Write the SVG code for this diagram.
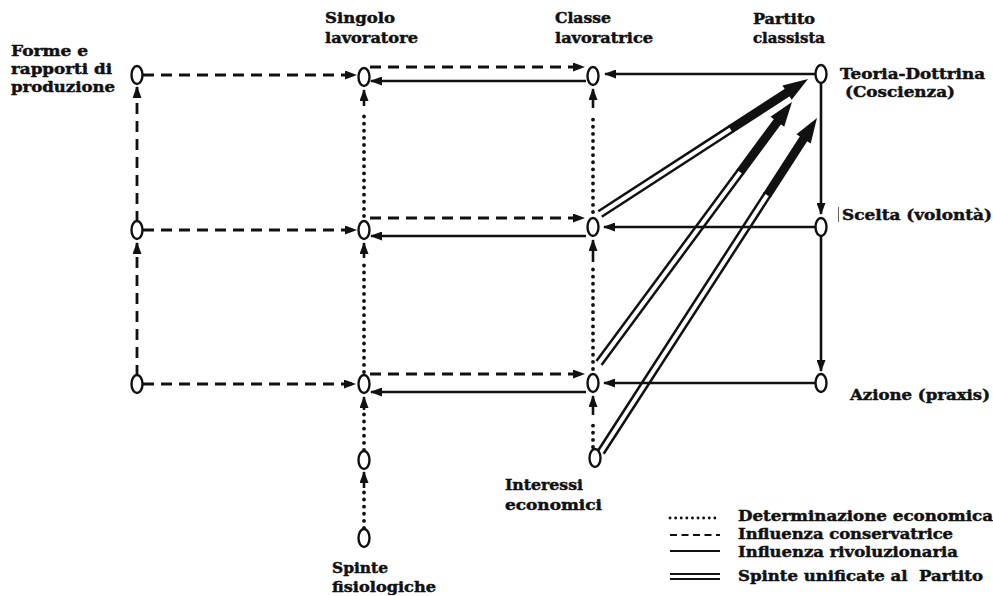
<svg xmlns="http://www.w3.org/2000/svg" width="993" height="596" viewBox="0 0 993 596">
<style>
.t{font-family:"DejaVu Serif","Liberation Serif",serif;font-weight:bold;font-size:14.5px;fill:#111;stroke:#111;stroke-width:0.45}
.n{fill:#fff;stroke:#111;stroke-width:2.4}
.sol{fill:none;stroke:#111;stroke-width:2.6}
.das{fill:none;stroke:#111;stroke-width:2.8;stroke-dasharray:11 7}
.dot{fill:none;stroke:#111;stroke-width:3.8;stroke-linecap:round;stroke-dasharray:0.1 7}
.dl{stroke:#111;stroke-width:2.5}
</style>
<defs>
<marker id="ah" viewBox="0 0 12 9" refX="11" refY="4.5" markerWidth="12" markerHeight="9" markerUnits="userSpaceOnUse" orient="auto">
<path d="M0,0 L12,4.5 L0,9 z" fill="#111"/>
</marker>
</defs>
<g id="connectors">
<path class="das" d="M143,75 H356" marker-end="url(#ah)"/>
<path class="das" d="M370,67 H584" marker-end="url(#ah)"/>
<path class="sol" d="M586,81 H371" marker-end="url(#ah)"/>
<path class="sol" d="M815,74 H605" marker-end="url(#ah)"/>
<path class="das" d="M143,230 H356" marker-end="url(#ah)"/>
<path class="das" d="M370,218 H584" marker-end="url(#ah)"/>
<path class="sol" d="M586,236 H371" marker-end="url(#ah)"/>
<path class="sol" d="M815,227 H604" marker-end="url(#ah)"/>
<path class="das" d="M143,384 H355" marker-end="url(#ah)"/>
<path class="das" d="M370,374 H584" marker-end="url(#ah)"/>
<path class="sol" d="M586,392 H371" marker-end="url(#ah)"/>
<path class="sol" d="M815,383 H604" marker-end="url(#ah)"/>
<path class="das" d="M137,376 V243" marker-end="url(#ah)"/>
<path class="das" d="M137,222 V87" marker-end="url(#ah)"/>
<path class="dot" d="M364,216 V110"/>
<path class="sol" d="M364,106 V90" marker-end="url(#ah)"/>
<path class="dot" d="M364,372 V264"/>
<path class="sol" d="M364,258 V243" marker-end="url(#ah)"/>
<path class="dot" d="M364,450 V414"/>
<path class="sol" d="M364,410 V397" marker-end="url(#ah)"/>
<path class="dot" d="M364,528 V492"/>
<path class="sol" d="M364,488 V472" marker-end="url(#ah)"/>
<path class="dot" d="M593,212 V114"/>
<path class="sol" d="M593,108 V89" marker-end="url(#ah)"/>
<path class="dot" d="M593,369 V268"/>
<path class="sol" d="M593,262 V240" marker-end="url(#ah)"/>
<path class="dot" d="M593,447 V420"/>
<path class="sol" d="M593,415 V396" marker-end="url(#ah)"/>
<path class="sol" d="M821,83 V214" marker-end="url(#ah)"/>
<path class="sol" d="M821,236 V371" marker-end="url(#ah)"/>
<g transform="translate(600,214) rotate(-32.98)">
<line class="dl" x1="0" y1="-3.2" x2="157" y2="-3.2"/>
<line class="dl" x1="0" y1="3.2" x2="157" y2="3.2"/>
<rect x="155.6" y="-4.45" width="70" height="8.9" fill="#111"/>
<polygon points="223,-8.5 248,0 223,8.5" fill="#111"/>
</g>
<g transform="translate(599,363) rotate(-53.52)">
<line class="dl" x1="0" y1="-3.2" x2="239" y2="-3.2"/>
<line class="dl" x1="0" y1="3.2" x2="239" y2="3.2"/>
<rect x="237.4" y="-4.45" width="64" height="8.9" fill="#111"/>
<polygon points="300,-8.5 324.6,0 300,8.5" fill="#111"/>
</g>
<g transform="translate(601,452) rotate(-57.11)">
<line class="dl" x1="0" y1="-3.2" x2="307" y2="-3.2"/>
<line class="dl" x1="0" y1="3.2" x2="307" y2="3.2"/>
<rect x="306" y="-4.45" width="69" height="8.9" fill="#111"/>
<polygon points="373,-8.5 397.8,0 373,8.5" fill="#111"/>
</g>
</g>
<g id="forme"><ellipse class="n" cx="137" cy="75" rx="5.5" ry="9"/><text class="t" x="11" y="56" textLength="77" lengthAdjust="spacingAndGlyphs">Forme e</text><text class="t" x="11" y="74" textLength="101" lengthAdjust="spacingAndGlyphs">rapporti di</text><text class="t" x="11" y="92" textLength="104" lengthAdjust="spacingAndGlyphs">produzione</text></g>
<g id="c1-mid"><ellipse class="n" cx="137" cy="230" rx="5.5" ry="9"/></g>
<g id="c1-bot"><ellipse class="n" cx="137" cy="384" rx="5.5" ry="9"/></g>
<g id="singolo"><ellipse class="n" cx="364" cy="77" rx="5.5" ry="9"/><text class="t" x="325" y="23" textLength="70" lengthAdjust="spacingAndGlyphs">Singolo</text><text class="t" x="325" y="43" textLength="93" lengthAdjust="spacingAndGlyphs">lavoratore</text></g>
<g id="c2-mid"><ellipse class="n" cx="364" cy="230" rx="5.5" ry="9"/></g>
<g id="c2-bot"><ellipse class="n" cx="364" cy="384" rx="5.5" ry="9"/></g>
<g id="c2-low"><ellipse class="n" cx="364" cy="460" rx="5.5" ry="9"/></g>
<g id="spinte"><ellipse class="n" cx="364" cy="538" rx="5.5" ry="9"/><text class="t" x="332" y="573" textLength="56" lengthAdjust="spacingAndGlyphs">Spinte</text><text class="t" x="332" y="592" textLength="104" lengthAdjust="spacingAndGlyphs">fisiologiche</text></g>
<g id="classe"><ellipse class="n" cx="593" cy="76" rx="5.5" ry="9"/><text class="t" x="555" y="23" textLength="56" lengthAdjust="spacingAndGlyphs">Classe</text><text class="t" x="555" y="43" textLength="98" lengthAdjust="spacingAndGlyphs">lavoratrice</text></g>
<g id="c3-mid"><ellipse class="n" cx="593" cy="227" rx="5.5" ry="9"/></g>
<g id="c3-bot"><ellipse class="n" cx="593" cy="383" rx="5.5" ry="9"/></g>
<g id="interessi"><ellipse class="n" cx="595" cy="458" rx="5.5" ry="9"/><text class="t" x="505" y="490" textLength="78" lengthAdjust="spacingAndGlyphs">Interessi</text><text class="t" x="505" y="510" textLength="97" lengthAdjust="spacingAndGlyphs">economici</text></g>
<g id="partito"><ellipse class="n" cx="821" cy="74" rx="5.5" ry="9"/><text class="t" x="753" y="24" textLength="62" lengthAdjust="spacingAndGlyphs">Partito</text><text class="t" x="753" y="43" textLength="72" lengthAdjust="spacingAndGlyphs">classista</text><text class="t" x="840" y="79" textLength="145" lengthAdjust="spacingAndGlyphs">Teoria-Dottrina</text><text class="t" x="845" y="97" textLength="110" lengthAdjust="spacingAndGlyphs">(Coscienza)</text></g>
<g id="scelta"><ellipse class="n" cx="821" cy="227" rx="5.5" ry="9"/><line x1="838.5" y1="207" x2="838.5" y2="222" stroke="#666" stroke-width="1"/><text class="t" x="842" y="220" textLength="150" lengthAdjust="spacingAndGlyphs">Scelta (volontà)</text></g>
<g id="azione"><ellipse class="n" cx="821" cy="383" rx="5.5" ry="9"/><text class="t" x="850" y="400" textLength="140" lengthAdjust="spacingAndGlyphs">Azione (praxis)</text></g>
<g id="legend">
<path class="dot" d="M670,518 H720" style="stroke-width:2.8;stroke-dasharray:0.1 5.5"/>
<path class="das" d="M670,535 H720" style="stroke-width:2.2;stroke-dasharray:7 4.5"/>
<path class="sol" d="M670,551 H720" style="stroke-width:2.2"/>
<path class="sol" d="M670,574 H720 M670,579 H720" style="stroke-width:2.2"/>
<text class="t" x="738" y="521" textLength="255" lengthAdjust="spacingAndGlyphs">Determinazione economica</text>
<text class="t" x="738" y="539" textLength="215" lengthAdjust="spacingAndGlyphs">Influenza conservatrice</text>
<text class="t" x="738" y="557" textLength="220" lengthAdjust="spacingAndGlyphs">Influenza rivoluzionaria</text>
<text class="t" x="738" y="581" textLength="245" lengthAdjust="spacingAndGlyphs" xml:space="preserve">Spinte unificate al  Partito</text>
</g>
</svg>
